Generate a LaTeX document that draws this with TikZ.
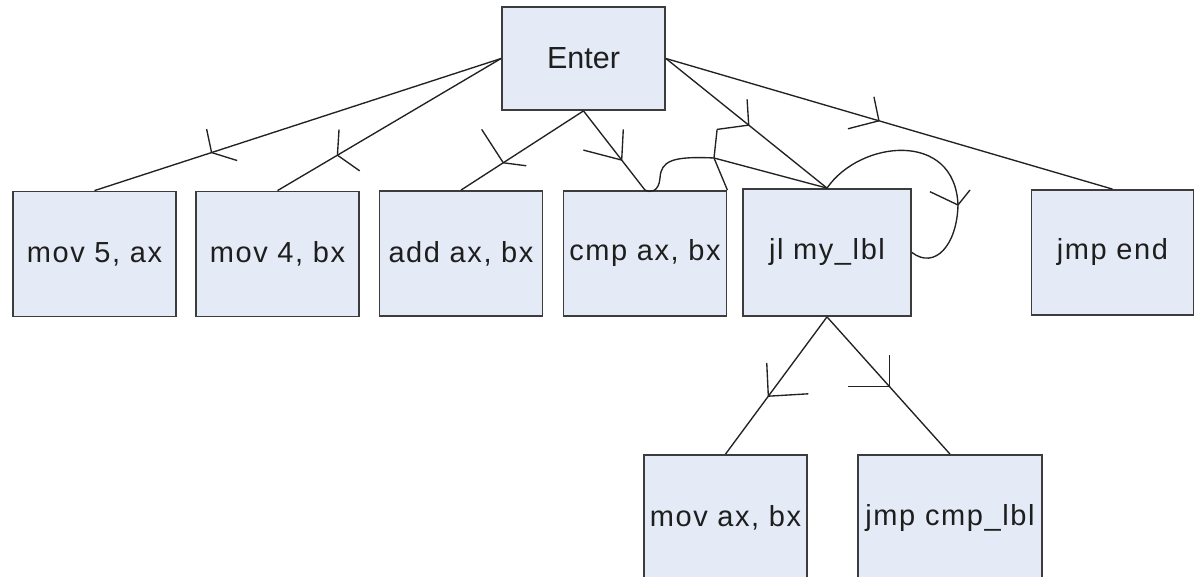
\documentclass[tikz,border=0pt]{standalone}
\usepackage{fontspec}
\setmainfont{Liberation Sans}
\newfontfamily\boxfont[LetterSpace=5.5]{Liberation Sans}
\definecolor{boxfill}{RGB}{228,235,246}
\definecolor{boxline}{RGB}{60,60,60}
\definecolor{linecol}{RGB}{34,34,34}
\definecolor{txt}{RGB}{30,30,30}
\tikzset{
  blk/.style={draw=boxline, fill=boxfill, line width=1.8pt, inner sep=0pt,
    minimum width=163pt, minimum height=125pt, text=txt,
    font=\boxfont\fontsize{29}{34}\selectfont},
  link/.style={draw=linecol, line width=1.35pt, line join=round},
}
\begin{document}
\begin{tikzpicture}[x=1pt,y=-1pt]
\clip (0,0) rectangle (1195,577);
\fill[white] (0,0) rectangle (1195,577);

% blocks
\node[blk, minimum height=103pt, font=\fontsize{30.5}{36}\selectfont] (enter) at (583.5,58.5) {Enter};
\node[blk] (m5)   at (94.5,254)   {mov 5, ax};
\node[blk] (m4)   at (277.5,254)  {mov 4, bx};
\node[blk] (add)  at (461,253.5)  {add ax, bx};
\node[blk] (cmp)  at (645,253.5)  {cmp ax, bx};
\node[blk, minimum width=168pt, minimum height=127pt] (jl) at (827,252.5) {jl my\_lbl};
\node[blk, minimum width=162pt] (jend) at (1112.5,252.5) {jmp end};
\node[blk, minimum height=126pt] (mab) at (725.5,518) {mov ax, bx};
\node[blk, minimum width=184pt, minimum height=126pt] (jcmp) at (950,518) {jmp cmp\_lbl};

% branches from Enter
\draw[link] (enter.west) -- (m5.north) coordinate[pos=0.712] (t1);
\draw[link] (t1) ++(-5,-23.5) -- (t1) -- ++(25.6,8);
\draw[link] (enter.west) -- (m4.north) coordinate[pos=0.732] (t2);
\draw[link] (t2) ++(1.6,-25.7) -- (t2) -- ++(22.3,15.7);
\draw[link] (enter.south) -- (add.north) coordinate[pos=0.655] (t3);
\draw[link] (t3) ++(-21.6,-33.4) -- (t3) -- ++(23,3);
\draw[link] (enter.south) -- (cmp.north) coordinate[pos=0.621] (t4);
\draw[link] (t4) ++(1.6,-30.7) -- (t4) -- ++(-38.3,-10);
\draw[link] (enter.east) -- (jl.north) coordinate[pos=0.514] (t5);
\draw[link] (t5) ++(-1.6,-25.7) -- (t5) -- ++(-31.6,4.3) coordinate (b5);
\draw[link] (enter.east) -- (jend.north) coordinate[pos=0.477] (t6);
\draw[link] (t6) ++(-5,-24) -- (t6) -- ++(-31,8);

% branches from jl
\draw[link] (jl.south) -- (mab.north) coordinate[pos=0.578] (t7);
\draw[link] (t7) ++(-1.6,-33.4) -- (t7) -- ++(40,-2.4);
\draw[link] (jl.south) -- (jcmp.north) coordinate[pos=0.507] (t8);
\draw[link] (t8) ++(0,-31.3) -- (t8) -- ++(-41,0);

% jump back from jl to cmp
\coordinate (kink) at (714,158);
\draw[link] (jl.north) -- (kink) .. controls (672,156) and (661,161) .. (660,178)
  .. controls (659,192) and (650,193) .. (cmp.north);
\draw[link] (cmp.north east) -- (kink) -- (b5);

% self loop on jl
\coordinate (t9) at (958,205);
\draw[link] (jl.north) .. controls (860,140) and (955,130) .. (t9)
  .. controls (957,245) and (935,270) .. (jl.east);
\draw[link] (t9) ++(-28,-13.3) -- (t9) -- ++(12,-15);
\end{tikzpicture}
\end{document}
